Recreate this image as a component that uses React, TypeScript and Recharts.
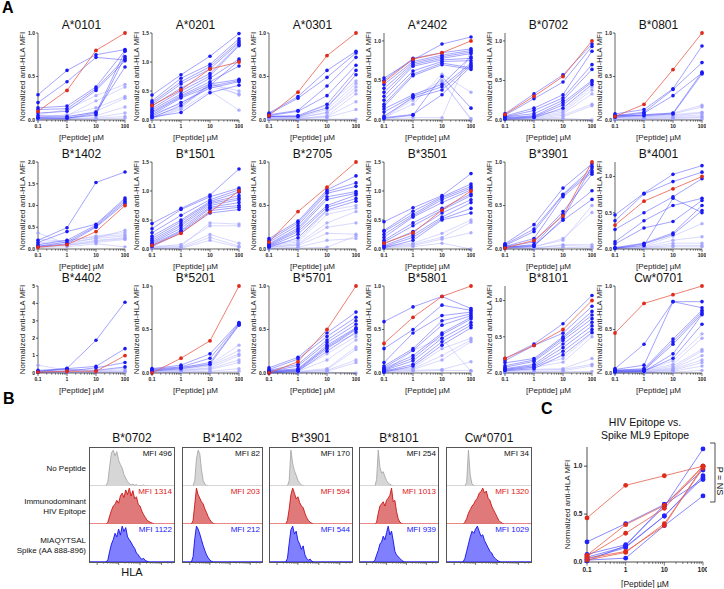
import React from 'react';
import { LineChart, Line, XAxis, YAxis, AreaChart, Area, ReferenceLine } from 'recharts';

const FONT = '"Liberation Sans", Arial, Helvetica, sans-serif';

// peptide dose (µM)
const doses = [0.1, 1, 10, 100];
const doseLabels = [0.1, 1, 10, 100];

// ---- panel A ----
const alleles = ['A*0101', 'A*0201', 'A*0301', 'A*2402', 'B*0702', 'B*0801',
  'B*1402', 'B*1501', 'B*2705', 'B*3501', 'B*3901', 'B*4001',
  'B*4402', 'B*5201', 'B*5701', 'B*5801', 'B*8101', 'Cw*0701'];
const yMax = [1, 1.5, 1, 1.1, 1.1, 1, 2, 1.5, 1, 1.5, 1, 1.2, 5, 1, 1, 1, 1.2, 1];

// red = immunodominant HIV epitope, hi/lo = spike peptides (strong / weak binders)
const a0101 = {
  red: [0.1, 0.34, 0.8, 1.0],
  hi: [[0.29, 0.57, 0.75, 0.81], [0.2, 0.44, 0.72, 0.69], [0.14, 0.16, 0.38, 0.8], [0.12, 0.13, 0.36, 0.71], [0.08, 0.1, 0.34, 0.68], [0.05, 0.04, 0.09, 0.61], [0.03, 0.02, 0.06, 0.73], [0.02, 0.02, 0.08, 0.79]],
  lo: [[0.06, 0.12, 0.28, 0.41], [0.04, 0.05, 0.22, 0.38], [0.03, 0.06, 0.14, 0.27], [0.02, 0.03, 0.1, 0.25], [0.01, 0.02, 0.05, 0.15], [0.02, 0.01, 0.03, 0.08], [0.01, 0.01, 0.02, 0.04], [0, 0.01, 0.01, 0.02]],
};
const a0201 = {
  red: [0.25, 0.52, 0.88, 1.0],
  hi: [[0.43, 0.78, 1.1, 1.49], [0.33, 0.72, 0.96, 1.4], [0.3, 0.66, 0.92, 1.36], [0.27, 0.62, 0.88, 1.33], [0.24, 0.55, 0.8, 1.3], [0.2, 0.5, 0.76, 1.28], [0.17, 0.45, 0.72, 1.05], [0.14, 0.42, 0.66, 0.93], [0.12, 0.4, 0.62, 0.7], [0.09, 0.38, 0.58, 0.68], [0.07, 0.3, 0.55, 0.66], [0.05, 0.13, 0.47, 0.6], [0.04, 0.25, 0.6, 1.02]],
  lo: [[0.1, 0.28, 0.62, 0.5], [0.06, 0.22, 0.58, 0.45], [0.03, 0.2, 0.64, 0.43], [0.02, 0.18, 0.5, 0.17]],
};
const a0301 = {
  red: [0.05, 0.32, 0.74, 1.0],
  hi: [[0.08, 0.27, 0.57, 0.79], [0.07, 0.25, 0.49, 0.77], [0.06, 0.11, 0.39, 0.72], [0.05, 0.1, 0.28, 0.63], [0.04, 0.05, 0.18, 0.57], [0.04, 0.04, 0.14, 0.52]],
  lo: [[0.05, 0.04, 0.17, 0.45], [0.04, 0.03, 0.12, 0.42], [0.03, 0.02, 0.09, 0.38], [0.03, 0.03, 0.08, 0.34], [0.02, 0.01, 0.05, 0.3], [0.02, 0.02, 0.04, 0.21], [0.01, 0.01, 0.03, 0.12], [0.01, 0, 0.01, 0.01]],
};
const a2402 = {
  red: [0.48, 0.77, 0.85, 1.0],
  hi: [[0.53, 0.76, 0.96, 1.05], [0.5, 0.78, 0.85, 0.9], [0.45, 0.74, 0.82, 0.88], [0.4, 0.72, 0.8, 0.86], [0.35, 0.7, 0.78, 0.84], [0.3, 0.68, 0.76, 0.78], [0.25, 0.62, 0.74, 0.75], [0.2, 0.58, 0.72, 0.66], [0.17, 0.56, 0.7, 0.64], [0.14, 0.32, 0.45, 0.8], [0.1, 0.3, 0.42, 0.72], [0.05, 0.28, 0.38, 0.7], [0.03, 0.07, 0.32, 0.68], [0.02, 0.06, 0.55, 0.15]],
  lo: [[0.03, 0.2, 0.58, 0.35], [0.02, 0.3, 0.5, 0], [0.01, 0.03, 0.03, 0.88], [0.04, 0.25, 0.48, 0.02]],
};
const b0702 = {
  red: [0.07, 0.3, 0.55, 1.0],
  hi: [[0.08, 0.33, 0.57, 0.96], [0.06, 0.27, 0.48, 0.93], [0.05, 0.15, 0.32, 0.87], [0.04, 0.12, 0.28, 0.7], [0.04, 0.08, 0.25, 0.64], [0.03, 0.05, 0.22, 0.5], [0.02, 0.04, 0.19, 0.48], [0.01, 0.03, 0.15, 0.45]],
  lo: [[0.03, 0.06, 0.12, 0.42], [0.02, 0.04, 0.1, 0.38], [0.02, 0.03, 0.08, 0.33], [0.01, 0.02, 0.06, 0.2], [0.01, 0.01, 0.04, 0.18], [0, 0.01, 0.02, 0]],
};
const b0801 = {
  red: [0.04, 0.18, 0.58, 1.0],
  hi: [[0.07, 0.12, 0.36, 0.85], [0.05, 0.09, 0.35, 0.66], [0.04, 0.08, 0.28, 0.54], [0.03, 0.06, 0.08, 0.55], [0.05, 0.05, 0.07, 0.53]],
  lo: [[0.06, 0.06, 0.08, 0.17], [0.05, 0.05, 0.07, 0.15], [0.04, 0.04, 0.06, 0.09], [0.03, 0.04, 0.05, 0.08], [0.03, 0.03, 0.04, 0.06], [0.02, 0.02, 0.03, 0.04], [0.01, 0.02, 0.02, 0.03], [0, 0.01, 0.01, 0.01]],
};
const b1402 = {
  red: [0.04, 0.1, 0.4, 1.0],
  hi: [[0.2, 0.49, 1.53, 1.77], [0.15, 0.4, 0.57, 1.17], [0.1, 0.2, 0.55, 1.13], [0.06, 0.16, 0.52, 1.09], [0.05, 0.12, 0.5, 1.05]],
  lo: [[0.37, 0.12, 0.25, 0.43], [0.22, 0.18, 0.3, 0.38], [0.14, 0.2, 0.28, 0.33], [0.1, 0.16, 0.24, 0.3], [0.08, 0.1, 0.2, 0.26], [0.06, 0.08, 0.18, 0.24], [0.05, 0.09, 0.15, 0.22], [0.03, 0.05, 0.12, 0.05]],
};
const b1501 = {
  red: [0.06, 0.27, 0.64, 1.0],
  hi: [[0.44, 0.7, 0.93, 1.38], [0.35, 0.68, 0.9, 1.05], [0.28, 0.58, 0.85, 1.02], [0.22, 0.5, 0.82, 0.98], [0.18, 0.47, 0.8, 0.92], [0.15, 0.43, 0.78, 0.88], [0.12, 0.4, 0.75, 0.85], [0.1, 0.36, 0.72, 0.8], [0.08, 0.32, 0.7, 0.75], [0.06, 0.3, 0.66, 0.72], [0.04, 0.28, 0.62, 0.68]],
  lo: [[0.05, 0.05, 0.45, 0.43], [0.03, 0.08, 0.4, 0.4], [0.02, 0.04, 0.25, 0.1], [0.01, 0.02, 0.2, 0.05], [0.01, 0.01, 0.15, 0.03]],
};
const b2705 = {
  red: [0.08, 0.43, 0.71, 1.0],
  hi: [[0.12, 0.32, 0.68, 0.84], [0.1, 0.3, 0.66, 0.76], [0.08, 0.27, 0.64, 0.72], [0.06, 0.24, 0.6, 0.66], [0.05, 0.22, 0.57, 0.64], [0.04, 0.2, 0.5, 0.62], [0.03, 0.17, 0.48, 0.58], [0.02, 0.13, 0.45, 0.55]],
  lo: [[0.05, 0.1, 0.44, 0.5], [0.04, 0.08, 0.4, 0.47], [0.03, 0.06, 0.3, 0.43], [0.02, 0.05, 0.25, 0.3], [0.02, 0.04, 0.18, 0.17], [0.01, 0.02, 0.1, 0.12], [0, 0.01, 0.02, 0.15]],
};
const b3501 = {
  red: [0.1, 0.28, 0.67, 1.0],
  hi: [[0.47, 0.71, 0.92, 1.3], [0.32, 0.65, 0.9, 1.12], [0.3, 0.6, 0.88, 1.08], [0.25, 0.57, 0.85, 1.05], [0.2, 0.55, 0.8, 1.02], [0.15, 0.45, 0.7, 0.95], [0.12, 0.4, 0.67, 0.92], [0.09, 0.3, 0.62, 0.85], [0.06, 0.24, 0.55, 0.8], [0.04, 0.2, 0.52, 0.7], [0.02, 0.15, 0.5, 0.62]],
  lo: [[0.05, 0.1, 0.27, 0.5], [0.04, 0.08, 0.2, 0.46], [0.03, 0.06, 0.17, 0.28], [0.02, 0.04, 0.1, 0]],
};
const b3901 = {
  red: [0.01, 0.1, 0.38, 1.0],
  hi: [[0.06, 0.28, 0.7, 0.98], [0.05, 0.23, 0.63, 0.93], [0.04, 0.2, 0.62, 0.9], [0.03, 0.12, 0.6, 0.88], [0.03, 0.08, 0.43, 0.86], [0.02, 0.05, 0.4, 0.67], [0.02, 0.04, 0.33, 0.57], [0.01, 0.03, 0.35, 0.95]],
  lo: [[0.03, 0.03, 0.1, 0.5], [0.02, 0.02, 0.12, 0.42], [0.02, 0.01, 0.05, 0.05], [0.01, 0.01, 0.04, 0.03], [0, 0, 0.02, 0.01]],
};
const b4001 = {
  red: [0.33, 0.66, 0.83, 1.0],
  hi: [[0.47, 0.77, 1.03, 1.15], [0.39, 0.76, 0.93, 1.06], [0.27, 0.5, 0.72, 0.97], [0.1, 0.39, 0.6, 0.7], [0.07, 0.29, 0.38, 0.67], [0.02, 0.08, 0.22, 0.6], [0.01, 0.07, 0.2, 0.53], [0.01, 0.05, 0.7, 0.5]],
  lo: [[0.02, 0.04, 0.18, 0.35], [0.01, 0.03, 0.12, 0.17], [0.01, 0.02, 0.08, 0.08], [0, 0.02, 0.05, 0.05], [0, 0.01, 0.03, 0.03]],
};
const b4402 = {
  red: [0.05, 0.1, 0.1, 1.0],
  hi: [[0.08, 0.27, 1.88, 4.07], [0.15, 0.25, 0.38, 1.4], [0.05, 0.1, 0.3, 0.6], [0.1, 0.2, 0.15, 0.35]],
  lo: [[0.45, 0.15, 0.1, 0.3], [0.12, 0.1, 0.08, 0.2], [0.06, 0.05, 0.06, 0.12], [0.03, 0.03, 0.04, 0.08], [0.02, 0.02, 0.02, 0.05]],
};
const b5201 = {
  red: [0, 0.17, 0.37, 1.0],
  hi: [[0.05, 0.09, 0.22, 0.58], [0.04, 0.07, 0.17, 0.57], [0.03, 0.06, 0.12, 0.56], [0.02, 0.05, 0.1, 0.55]],
  lo: [[0.05, 0.07, 0.1, 0.32], [0.04, 0.05, 0.09, 0.26], [0.03, 0.04, 0.08, 0.22], [0.02, 0.03, 0.06, 0.2], [0.02, 0.03, 0.05, 0.15], [0.01, 0.02, 0.04, 0.12], [0.01, 0.01, 0.02, 0.05], [0, 0.01, 0.01, 0.02]],
};
const b5701 = {
  red: [0, 0.13, 0.5, 1.0],
  hi: [[0.06, 0.18, 0.46, 0.7], [0.04, 0.16, 0.42, 0.64], [0.03, 0.1, 0.38, 0.6], [0.02, 0.08, 0.35, 0.56], [0.02, 0.05, 0.32, 0.52], [0.01, 0.04, 0.3, 0.51], [0.01, 0.03, 0.28, 0.5], [0, 0.02, 0.25, 0.47]],
  lo: [[0.03, 0.04, 0.3, 0.45], [0.02, 0.03, 0.22, 0.42], [0.02, 0.02, 0.15, 0.38], [0.01, 0.02, 0.05, 0.3], [0.01, 0.01, 0.04, 0.27], [0, 0.01, 0.03, 0.15], [0, 0, 0.02, 0.12], [0, 0, 0.01, 0]],
};
const b5801 = {
  red: [0.34, 0.64, 0.88, 1.0],
  hi: [[0.59, 0.76, 0.88, 0.74], [0.28, 0.5, 0.78, 0.72], [0.12, 0.46, 0.66, 0.7], [0.08, 0.28, 0.6, 0.68], [0.06, 0.26, 0.55, 0.66], [0.05, 0.2, 0.46, 0.64], [0.04, 0.17, 0.44, 0.62], [0.03, 0.14, 0.4, 0.58], [0.02, 0.1, 0.36, 0.55], [0.01, 0.08, 0.32, 0.52]],
  lo: [[0.03, 0.06, 0.28, 0.4], [0.02, 0.05, 0.2, 0.38], [0.02, 0.04, 0.15, 0.36], [0.01, 0.03, 0.04, 0.13], [0, 0.02, 0.03, 0.03], [0.01, 0.26, 0.4, 0.02]],
};
const b8101 = {
  red: [0.2, 0.38, 0.6, 1.0],
  hi: [[0.2, 0.4, 0.68, 1.07], [0.17, 0.38, 0.55, 0.92], [0.14, 0.2, 0.5, 0.85], [0.1, 0.18, 0.48, 0.8], [0.08, 0.16, 0.45, 0.75], [0.06, 0.12, 0.4, 0.7], [0.05, 0.1, 0.35, 0.65], [0.04, 0.08, 0.3, 0.6], [0.03, 0.06, 0.25, 0.56]],
  lo: [[0.05, 0.1, 0.2, 0.55], [0.04, 0.08, 0.15, 0.5], [0.03, 0.05, 0.06, 0.2], [0.02, 0.04, 0.05, 0.12], [0.01, 0.02, 0.03, 0.1], [0, 0.01, 0.02, 0.02]],
};
const cw0701 = {
  red: [0.46, 0.8, 0.9, 1.0],
  hi: [[0.05, 0.33, 0.82, 0.82], [0.04, 0.09, 0.82, 0.75], [0.03, 0.05, 0.39, 0.72], [0.03, 0.04, 0.36, 0.7], [0.02, 0.03, 0.33, 0.68], [0.02, 0.02, 0.22, 0.67], [0.01, 0.02, 0.17, 0.56]],
  lo: [[0.03, 0.03, 0.14, 0.45], [0.02, 0.03, 0.1, 0.4], [0.02, 0.02, 0.08, 0.27], [0.01, 0.02, 0.06, 0.25], [0.01, 0.01, 0.05, 0.2], [0.01, 0.01, 0.04, 0.15], [0, 0.01, 0.03, 0.12], [0, 0, 0.02, 0.08], [0, 0, 0.01, 0.03]],
};

const panelData = [a0101, a0201, a0301, a2402, b0702, b0801, b1402, b1501, b2705,
  b3501, b3901, b4001, b4402, b5201, b5701, b5801, b8101, cw0701];

// ---- panel B (flow histograms, 48 log bins, mode-normalised) ----
const histAlleles = ['B*0702', 'B*1402', 'B*3901', 'B*8101', 'Cw*0701'];
const mfiNone = [496, 82, 170, 254, 34];
const mfiHiv = [1314, 203, 594, 1013, 1320];
const mfiSpike = [1122, 212, 544, 939, 1029];

const histNone = [
  { start: 10, counts: [0.12, 0.55, 0.92, 1.0, 0.84, 0.96, 0.72, 0.6, 0.5, 0.32, 0.22, 0.12, 0.07, 0.03, 0.05, 0.02, 0.04, 0, 0.02, 0.01, 0.03, 0, 0.01] },
  { start: 7, counts: [0.15, 0.75, 1.0, 0.9, 0.45, 0.15, 0.05, 0.02] },
  { start: 11, counts: [0.15, 1.0, 0.62, 0.42, 0.3, 0.16, 0.08, 0.03, 0.01] },
  { start: 10, counts: [0.18, 1.0, 0.52, 0.36, 0.4, 0.26, 0.15, 0.08, 0.05, 0.02] },
  { start: 11, counts: [0.1, 1.0, 0.3, 0.05, 0.02] },
];
const histHiv = [
  { start: 10, counts: [0.05, 0.22, 0.38, 0.5, 0.55, 0.66, 0.58, 0.78, 0.86, 0.74, 0.95, 0.82, 1.0, 0.78, 0.93, 0.7, 0.76, 0.55, 0.5, 0.36, 0.26, 0.18, 0.1, 0.07, 0.04, 0.02] },
  { start: 6, counts: [0.1, 0.55, 1.0, 0.82, 0.72, 0.62, 0.56, 0.42, 0.32, 0.2, 0.12, 0.05, 0.02] },
  { start: 10, counts: [0.1, 0.42, 0.82, 1.0, 0.86, 0.7, 0.76, 0.6, 0.5, 0.46, 0.3, 0.18, 0.1, 0.05, 0.02] },
  { start: 10, counts: [0.05, 0.3, 0.5, 0.56, 0.62, 0.5, 0.66, 0.72, 0.8, 1.0, 0.62, 0.66, 0.35, 0.15, 0.05, 0.02] },
  { start: 10, counts: [0.05, 0.15, 0.3, 0.4, 0.5, 0.56, 0.66, 0.72, 0.86, 0.9, 1.0, 0.86, 0.92, 0.72, 0.66, 0.5, 0.4, 0.3, 0.2, 0.1, 0.05, 0.02] },
];
const histSpike = [
  { start: 10, counts: [0.06, 0.3, 0.5, 0.62, 0.8, 0.7, 0.92, 0.75, 1.0, 0.85, 0.96, 0.7, 0.62, 0.55, 0.45, 0.38, 0.25, 0.2, 0.12, 0.08, 0.1, 0.04, 0.02] },
  { start: 6, counts: [0.15, 0.65, 1.0, 0.92, 0.78, 0.62, 0.46, 0.32, 0.2, 0.12, 0.05, 0.02] },
  { start: 10, counts: [0.1, 0.52, 0.9, 1.0, 0.78, 0.86, 0.6, 0.5, 0.35, 0.45, 0.2, 0.1, 0.05, 0.08, 0.02] },
  { start: 9, counts: [0.05, 0.2, 0.32, 0.5, 0.56, 0.72, 0.62, 0.82, 1.0, 0.76, 0.86, 0.6, 0.3, 0.2, 0.15, 0.1, 0.05, 0.02] },
  { start: 10, counts: [0.1, 0.3, 0.5, 0.7, 0.86, 0.8, 0.92, 1.0, 0.86, 0.72, 0.76, 0.6, 0.5, 0.4, 0.3, 0.25, 0.15, 0.1, 0.05, 0.02] },
];

// ---- panel C ----
const cRed = [[0.46, 0.8, 0.9, 1.0], [0.07, 0.39, 0.59, 1.0], [0.06, 0.3, 0.56, 1.0], [0.04, 0.11, 0.38, 1.0], [0.02, 0.1, 0.4, 0.98]];
const cBlue = [[0.21, 0.4, 0.6, 0.96], [0.08, 0.18, 0.58, 1.18], [0.05, 0.16, 0.48, 0.9], [0.03, 0.15, 0.48, 0.88], [0.02, 0.04, 0.38, 0.69], [0.01, 0.17, 0.6, 0.86]];

// colours
const HI_LINE = '#4646ff';
const HI_DOT = '#1a1af5';
const LO_LINE = '#a4a4ff';
const LO_DOT = '#9c9cff';
const RED_LINE = '#e8604c';
const RED_DOT = '#e02a1a';
const INK = '#222';

// layout
const plotLefts = [38, 152, 269, 384, 505, 615];
const plotTops = [33, 162, 286];
const PW = 87;
const PH = 87;
const boxLefts = [89, 182, 269, 359, 446];
const boxWidths = [86, 81, 84, 80, 86];
const BOX_TOP = 447;
const ROW_H = 38;
const BINS = 48;

const logTicks = [0.1, 1, 10].flatMap((d) => [1, 2, 3, 4, 5, 6, 7, 8, 9].map((k) => +(d * k).toPrecision(2))).concat([100]);
const histTicks = [0, 1, 2, 3].flatMap((d) => [1, 2, 3, 4, 5, 6, 7, 8, 9].map((k) => 4 + 12 * d + 12 * Math.log10(k))).filter((b) => b <= 47);

const logTick = (fs: number, len: number) => (p: any) => {
  const v = p.payload.value;
  const major = doseLabels.includes(v);
  return (
    <g>
      <line x1={p.x} x2={p.x} y1={p.y} y2={p.y + (major ? len : len * 0.55)} stroke={INK} strokeWidth={0.6} />
      {major && (
        <text x={p.x} y={p.y + len + fs + 0.3} textAnchor="middle" fontSize={fs} fontWeight={700} fill={INK}>
          {v}
        </text>
      )}
    </g>
  );
};

const histTick = (p: any) => {
  const v = p.payload.value;
  const major = Math.abs((v - 4) % 12) < 0.01;
  return <line x1={p.x} x2={p.x} y1={p.y} y2={p.y + (major ? 3 : 1.6)} stroke={INK} strokeWidth={0.6} />;
};

const toRows = (red: number[][], blue: number[][]) =>
  doses.map((x, i) => {
    const row: Record<string, number> = { dose: x };
    red.forEach((s, k) => (row['r' + k] = s[i]));
    blue.forEach((s, k) => (row['b' + k] = s[i]));
    return row;
  });

const PanelA = ({ idx }: { idx: number }) => {
  const d = panelData[idx];
  const ymax = yMax[idx];
  const step = ymax >= 5 ? 1 : 0.5;
  const yTicks = Array.from({ length: Math.floor(ymax / step + 1e-9) + 1 }, (_, k) => k * step);
  const rows = doses.map((x, i) => {
    const row: Record<string, number> = { dose: x, red: d.red[i] };
    d.hi.forEach((s, k) => (row['h' + k] = s[i]));
    d.lo.forEach((s, k) => (row['l' + k] = s[i]));
    return row;
  });
  const left = plotLefts[idx % 6];
  const top = plotTops[Math.floor(idx / 6)];
  return (
    <>
      <div style={{ position: 'absolute', left: left - 20, top: top - 14, width: PW + 40, textAlign: 'center', fontSize: 12, lineHeight: '12px', color: '#111' }}>
        {alleles[idx]}
      </div>
      <div style={{ position: 'absolute', left: left - 35, top: top - 4 }}>
        <LineChart width={35 + PW + 4} height={4 + PH + 22} data={rows} margin={{ top: 4, right: 4, bottom: 0, left: 0 }}>
          <XAxis
            dataKey="dose" type="number" scale="log" domain={[0.1, 100]} ticks={logTicks} interval={0}
            tickSize={0} tickMargin={0} tick={logTick(5, 3)} height={22} stroke={INK} strokeWidth={0.7}
            label={{ value: '[Peptide] µM', position: 'insideBottom', offset: 2, fontSize: 8, fill: INK }}
          />
          <YAxis
            type="number" domain={[0, ymax]} ticks={yTicks} interval={0} width={35} tickSize={2} tickMargin={1}
            tick={{ fontSize: 5, fontWeight: 700, fill: INK }} stroke={INK} strokeWidth={0.7}
            tickFormatter={(v: number) => (step === 1 ? String(v) : v.toFixed(1))}
            label={{ value: 'Normalized anti-HLA MFI', angle: -90, position: 'insideLeft', offset: 19, fontSize: 8, fill: INK, style: { textAnchor: 'middle' } }}
          />
          {d.lo.map((_, k) => (
            <Line key={'l' + k} dataKey={'l' + k} stroke={LO_LINE} strokeOpacity={0.6} strokeWidth={0.7}
              dot={{ r: 1.7, fill: LO_DOT, stroke: 'none', fillOpacity: 0.8 }} activeDot={false} isAnimationActive={false} />
          ))}
          {d.hi.map((_, k) => (
            <Line key={'h' + k} dataKey={'h' + k} stroke={HI_LINE} strokeOpacity={0.7} strokeWidth={0.7}
              dot={{ r: 1.8, fill: HI_DOT, stroke: 'none' }} activeDot={false} isAnimationActive={false} />
          ))}
          <Line dataKey="red" stroke={RED_LINE} strokeWidth={0.8}
            dot={{ r: 1.9, fill: RED_DOT, stroke: 'none' }} activeDot={false} isAnimationActive={false} />
        </LineChart>
      </div>
    </>
  );
};

const histRows = (h: { start: number; counts: number[] }) =>
  Array.from({ length: BINS }, (_, i) => ({ bin: i, v: i >= h.start && i - h.start < h.counts.length ? h.counts[i - h.start] : 0 }));

const HistRow = ({ h, w, stroke, fill, base, axis }: any) => (
  <AreaChart width={w} height={ROW_H + (axis ? 5 : 0)} data={histRows(h)} margin={{ top: 0, right: 0, bottom: 0, left: 0 }}>
    <XAxis dataKey="bin" type="number" domain={[0, BINS - 1]} hide={!axis} height={axis ? 5 : 0}
      ticks={histTicks} interval={0} tickSize={0} tickMargin={0} tick={histTick} axisLine={false} />
    <YAxis domain={[0, 1.06]} hide />
    <ReferenceLine y={0} stroke={base} strokeWidth={0.8} />
    <Area type="linear" dataKey="v" stroke={stroke} strokeWidth={0.9} fill={fill} fillOpacity={1} dot={false} activeDot={false} isAnimationActive={false} />
  </AreaChart>
);

const HistColumn = ({ idx }: { idx: number }) => {
  const left = boxLefts[idx];
  const w = boxWidths[idx];
  const mfi = (txt: string, color: string, row: number) => (
    <div style={{ position: 'absolute', right: 2, top: row * ROW_H + 1, fontSize: 8, lineHeight: '10px', color, whiteSpace: 'nowrap' }}>{txt}</div>
  );
  return (
    <>
      <div style={{ position: 'absolute', left: left - 10, top: BOX_TOP - 15, width: w + 20, textAlign: 'center', fontSize: 12, lineHeight: '12px', color: '#111' }}>
        {histAlleles[idx]}
      </div>
      <div style={{ position: 'absolute', left: left + 1, top: BOX_TOP + 1, width: w - 2, height: ROW_H * 3 }}>
        <div style={{ position: 'absolute', left: 0, top: 0 }}>
          <HistRow h={histNone[idx]} w={w - 2} stroke="#a8a8a8" fill="#d6d6d6" base="#d0d0d0" />
        </div>
        <div style={{ position: 'absolute', left: 0, top: ROW_H }}>
          <HistRow h={histHiv[idx]} w={w - 2} stroke="#cc1414" fill="#e07a7a" base="#e86a6a" />
        </div>
        <div style={{ position: 'absolute', left: 0, top: ROW_H * 2 }}>
          <HistRow h={histSpike[idx]} w={w - 2} stroke="#1010f0" fill="#8080ff" base="#1010f0" axis />
        </div>
        {mfi('MFI ' + mfiNone[idx], '#111', 0)}
        {mfi('MFI ' + mfiHiv[idx], '#e01818', 1)}
        {mfi('MFI ' + mfiSpike[idx], '#2020ff', 2)}
      </div>
      <div style={{ position: 'absolute', left, top: BOX_TOP, width: w - 2, height: ROW_H * 3, border: '1px solid #555', pointerEvents: 'none' }} />
    </>
  );
};

const PanelC = () => {
  const rows = toRows(cRed, cBlue);
  return (
    <>
      <div style={{ position: 'absolute', left: 565, top: 416, width: 160, textAlign: 'center', fontSize: 10.5, lineHeight: '13px', color: '#111' }}>
        HIV Epitope vs.<br />Spike ML9 Epitope
      </div>
      <div style={{ position: 'absolute', left: 547, top: 443 }}>
        <LineChart width={160} height={145} data={rows} margin={{ top: 4, right: 4, bottom: 0, left: 0 }}>
          <XAxis
            dataKey="dose" type="number" scale="log" domain={[0.1, 100]} ticks={logTicks} interval={0}
            tickSize={0} tickMargin={0} tick={logTick(6.5, 3.5)} height={26} stroke={INK} strokeWidth={0.8}
            label={{ value: '[Peptide] µM', position: 'insideBottom', offset: 1, fontSize: 8.5, fill: INK }}
          />
          <YAxis
            type="number" domain={[0, 1.2]} ticks={[0, 0.5, 1]} interval={0} width={40} tickSize={3} tickMargin={1.5}
            tick={{ fontSize: 6.5, fontWeight: 700, fill: INK }} stroke={INK} strokeWidth={0.8}
            tickFormatter={(v: number) => v.toFixed(1)}
            label={{ value: 'Normalized anti-HLA MFI', angle: -90, position: 'insideLeft', offset: 20, fontSize: 8, fill: INK, style: { textAnchor: 'middle' } }}
          />
          {cBlue.map((_, k) => (
            <Line key={'b' + k} dataKey={'b' + k} stroke="#5a5aff" strokeOpacity={0.8} strokeWidth={0.9}
              dot={{ r: 2.4, fill: '#2222ff', stroke: 'none' }} activeDot={false} isAnimationActive={false} />
          ))}
          {cRed.map((_, k) => (
            <Line key={'r' + k} dataKey={'r' + k} stroke={RED_LINE} strokeOpacity={0.9} strokeWidth={0.9}
              dot={{ r: 2.4, fill: RED_DOT, stroke: 'none' }} activeDot={false} isAnimationActive={false} />
          ))}
        </LineChart>
      </div>
      <svg style={{ position: 'absolute', left: 700, top: 438 }} width={24} height={70}>
        <polyline points="10,5 15,5 15,64 10,64" fill="none" stroke={INK} strokeWidth={0.8} />
      </svg>
      <div style={{ position: 'absolute', left: 690, top: 476, width: 60, textAlign: 'center', fontSize: 9, lineHeight: '10px', transform: 'rotate(90deg)', color: '#111' }}>
        P = NS
      </div>
    </>
  );
};

const rowLabel = (lines: string[], top: number) => (
  <div style={{ position: 'absolute', left: 0, top, width: 86, textAlign: 'right', fontSize: 8, lineHeight: '10px', color: '#111' }}>
    {lines.map((l) => (
      <div key={l}>{l}</div>
    ))}
  </div>
);

export default function App() {
  return (
    <div style={{ position: 'absolute', left: 0, top: 0, width: 724, height: 589, background: '#fff', overflow: 'hidden', fontFamily: FONT }}>
      <div style={{ position: 'absolute', left: 2, top: -1, fontSize: 16, fontWeight: 700 }}>A</div>
      <div style={{ position: 'absolute', left: 3, top: 390, fontSize: 16, fontWeight: 700 }}>B</div>
      <div style={{ position: 'absolute', left: 541, top: 400, fontSize: 16, fontWeight: 700 }}>C</div>
      {alleles.map((_, i) => (
        <PanelA key={i} idx={i} />
      ))}
      {rowLabel(['No Peptide'], 464)}
      {rowLabel(['Immunodominant', 'HIV Epitope'], 497)}
      {rowLabel(['MIAQYTSAL', 'Spike (AA 888-896)'], 536)}
      {histAlleles.map((_, i) => (
        <HistColumn key={i} idx={i} />
      ))}
      <div style={{ position: 'absolute', left: 112, top: 566, width: 40, textAlign: 'center', fontSize: 11, lineHeight: '12px', color: '#111' }}>HLA</div>
      <PanelC />
    </div>
  );
}
